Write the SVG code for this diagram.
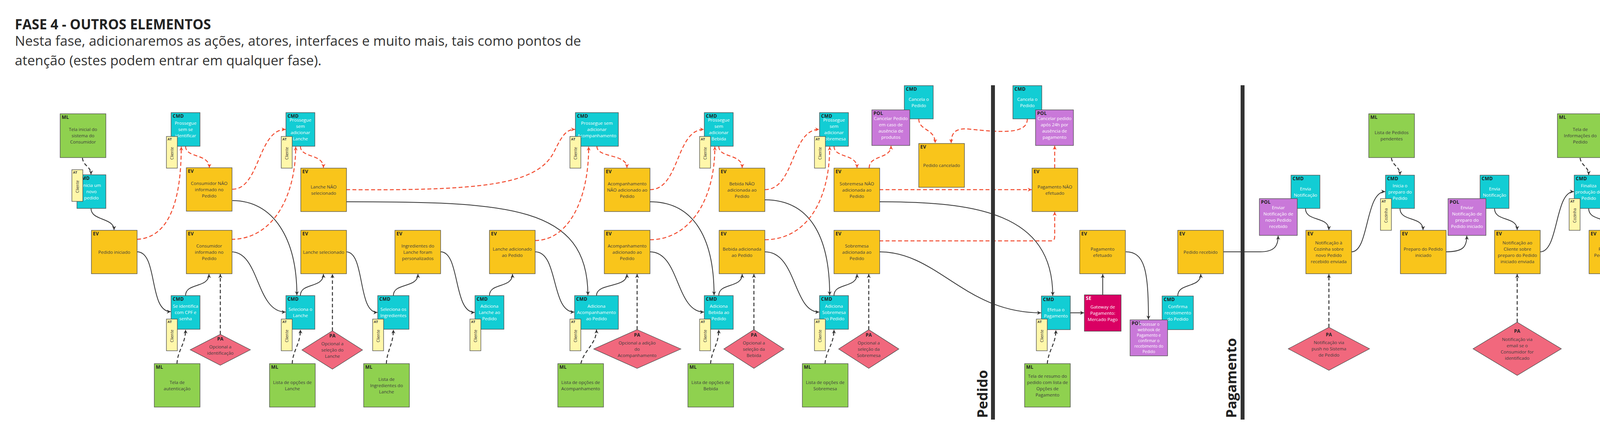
<svg xmlns="http://www.w3.org/2000/svg" width="5348" height="1115" viewBox="0 0 5348 1115">
<style>
.b{stroke:#4a4a4a;stroke-width:1.3}
.ev{fill:#F9C51B}
.cmd{fill:#12CDD4}
.ml{fill:#8FD14F}
.at{fill:#FFF7AA}
.pol{fill:#C978D9}
.pa{fill:#F1687D}
.se{fill:#DA0063}
text{font-family:"Open Sans","Liberation Sans",sans-serif}
.l{font-weight:700;font-size:12px;fill:#1e1e1e;letter-spacing:0.3px}
.lw{fill:#fff}
.t{font-size:11.5px;fill:#3b3b3b;text-anchor:middle}
.w{fill:#fff}
.sm{font-size:10px}
.al{font-weight:700;font-size:8.5px;fill:#333}
.an{font-size:10px;fill:#333;text-anchor:middle}
.s{fill:none;stroke:#333;stroke-width:2;marker-end:url(#ak)}
.d{fill:none;stroke:#333;stroke-width:2.5;stroke-dasharray:9 6;marker-end:url(#ak)}
.r{fill:none;stroke:#F24A2E;stroke-width:2.5;stroke-dasharray:10 6;marker-end:url(#ar)}
.sep{fill:#333}
.st{font-weight:700;font-size:36px;fill:#222}
.pl{font-weight:700;font-size:12px;fill:#222;text-anchor:middle}
</style>
<defs>
<marker id="ak" viewBox="0 0 12 12" refX="11" refY="6" markerWidth="12" markerHeight="12" markerUnits="userSpaceOnUse" orient="auto"><path d="M1,1 L11,6 L1,11 L4,6 z" fill="#333"/></marker>
<marker id="ar" viewBox="0 0 12 12" refX="11" refY="6" markerWidth="12" markerHeight="12" markerUnits="userSpaceOnUse" orient="auto"><path d="M1,1 L11,6 L1,11 L4,6 z" fill="#F24A2E"/></marker>
</defs>
<rect width="5348" height="1115" fill="#fff"/>
<g id="header">
<text x="38" y="75" font-weight="700" font-size="35" fill="#222">FASE 4 - OUTROS ELEMENTOS</text>
<text x="38" y="117" font-size="35" fill="#333">Nesta fase, adicionaremos as ações, atores, interfaces e muito mais, tais como pontos de</text>
<text x="38" y="167" font-size="35" fill="#333">atenção (estes podem entrar em qualquer fase).</text>
</g>
<g id="connectors">
<path class="s" d="M233,533 C233,565 292,556 292,588"/>
<path class="s" d="M351,644 C405,644 380,797 437,797"/>
<path class="s" d="M475,756 C475,722 535,738 535,701"/>
<path class="s" d="M595,513 C700,513 760,610 760,755"/>
<path class="s" d="M592,644 C665,644 655,798 731,798"/>
<path class="s" d="M769,756 C769,722 828,738 828,701"/>
<path class="s" d="M886,644 C935,644 915,799 966,799"/>
<path class="s" d="M1007,756 C1007,722 1070,738 1070,701"/>
<path class="s" d="M1128,644 C1178,644 1160,799 1215,799"/>
<path class="s" d="M1253,756 C1253,722 1312,738 1312,701"/>
<path class="s" d="M886,516 C1300,516 1505,525 1505,755"/>
<path class="s" d="M1370,644 C1430,644 1410,798 1470,798"/>
<path class="s" d="M1527,756 C1527,722 1605,738 1605,701"/>
<path class="s" d="M1664,516 C1770,516 1828,600 1828,755"/>
<path class="s" d="M1664,644 C1740,644 1730,798 1802,798"/>
<path class="s" d="M1840,756 C1840,722 1900,738 1900,701"/>
<path class="s" d="M1958,511 C2070,511 2124,600 2124,755"/>
<path class="s" d="M1958,644 C2040,644 2030,798 2097,798"/>
<path class="s" d="M2135,756 C2135,722 2194,738 2194,701"/>
<path class="s" d="M2251,516 C2500,516 2695,545 2695,756"/>
<path class="s" d="M2251,644 C2400,644 2470,800 2665,800"/>
<path class="s" d="M2740,800 L2775,800"/>
<path class="s" d="M2823,754 L2823,701"/>
<path class="s" d="M2882,644 C2930,644 2940,690 2940,817"/>
<path class="s" d="M3015,757 C3015,722 3074,738 3074,701"/>
<path class="s" d="M3131,644 L3225,644 C3262,644 3272,630 3272,603"/>
<path class="s" d="M3342,533 C3342,568 3402,552 3402,588"/>
<path class="s" d="M3460,644 C3505,644 3495,490 3546,490"/>
<path class="s" d="M3584,533 C3584,568 3643,552 3643,588"/>
<path class="s" d="M3701,644 C3745,644 3755,632 3755,603"/>
<path class="s" d="M3826,533 C3826,568 3884,552 3884,588"/>
<path class="s" d="M3943,644 C3990,644 3980,490 4029,490"/>
<path class="s" d="M4067,533 C4067,568 4126,552 4126,588"/>
<path class="s" d="M4184,644 C4228,644 4239,632 4239,603"/>
<path class="s" d="M4308,533 C4308,568 4367,552 4367,588"/>
<path class="s" d="M4425,644 C4470,644 4460,490 4512,490"/>
<path class="s" d="M4550,533 C4550,568 4609,552 4609,588"/>
<path class="s" d="M4667,644 C4710,644 4700,490 4754,490"/>
<path class="s" d="M4792,533 C4792,568 4850,552 4850,588"/>
<path class="s" d="M4908,644 C4952,644 4963,632 4963,603"/>
<path class="s" d="M5034,533 C5034,568 5092,552 5092,588"/>
<path class="d" d="M211,404 C213,425 233,425 233,446"/>
<path class="d" d="M453,930 C455,895 475,880 475,843"/>
<path class="d" d="M564,855 L564,701"/>
<path class="d" d="M748,930 C750,895 769,880 769,843"/>
<path class="d" d="M851,846 L851,701"/>
<path class="d" d="M989,930 C991,895 1007,880 1007,843"/>
<path class="d" d="M1487,930 C1495,895 1527,880 1527,843"/>
<path class="d" d="M1631,843 L1631,701"/>
<path class="d" d="M1819,930 C1822,895 1840,880 1840,843"/>
<path class="d" d="M1930,843 L1930,701"/>
<path class="d" d="M2112,930 C2115,895 2135,880 2135,843"/>
<path class="d" d="M2224,843 L2224,701"/>
<path class="d" d="M2681,930 C2684,895 2703,880 2703,844"/>
<path class="d" d="M3402,837 L3402,701"/>
<path class="d" d="M3562,404 C3565,425 3584,425 3584,447"/>
<path class="d" d="M3884,824 L3884,701"/>
<path class="d" d="M4045,404 C4048,425 4067,425 4067,447"/>
<path class="d" d="M4367,824 L4367,701"/>
<path class="d" d="M4770,404 C4773,425 4792,425 4792,447"/>
<path class="d" d="M5092,824 L5092,701"/>
<path class="r" d="M351,612 C430,608 464,520 464,375"/>
<path class="r" d="M475,374 C475,405 536,392 536,429"/>
<path class="r" d="M595,484 C665,484 660,331 731,331"/>
<path class="r" d="M592,612 C700,612 757,500 757,375"/>
<path class="r" d="M769,374 C769,405 828,392 828,429"/>
<path class="r" d="M886,485 C1250,488 1380,470 1420,385 C1440,345 1450,331 1472,331"/>
<path class="r" d="M1370,615 C1450,615 1507,520 1507,375"/>
<path class="r" d="M1528,374 C1528,405 1605,392 1605,429"/>
<path class="r" d="M1664,485 C1740,485 1730,331 1802,331"/>
<path class="r" d="M1664,613 C1760,613 1830,520 1830,375"/>
<path class="r" d="M1840,374 C1840,405 1900,392 1900,429"/>
<path class="r" d="M1958,485 C2035,485 2025,331 2097,331"/>
<path class="r" d="M1958,613 C2060,613 2124,520 2124,375"/>
<path class="r" d="M2135,374 C2135,405 2194,392 2194,429"/>
<path class="r" d="M2225,430 C2225,395 2281,408 2281,373"/>
<path class="r" d="M2352,304 C2352,335 2394,328 2394,366"/>
<path class="r" d="M2630,304 C2630,345 2560,338 2480,330 C2445,327 2435,340 2435,366"/>
<path class="r" d="M2251,485 L2641,485"/>
<path class="r" d="M2251,616 L2690,616 Q2700,616 2700,606 L2700,542"/>
<path class="r" d="M2700,430 L2700,373"/>
<path class="r" d="M4425,675 C4490,675 4490,777 4549,777"/>
<path class="r" d="M4667,768 C4710,768 4722,785 4722,815"/>
<path class="r" d="M4792,756 C4792,722 4850,738 4850,701"/>
</g>
<g id="separators">
<rect class="sep" x="2537" y="218" width="10" height="855"/>
<text class="st" transform="translate(2528,1069) rotate(-90)">Pedido</text>
<rect class="sep" x="3176" y="218" width="10" height="855"/>
<text class="st" transform="translate(3165,1069) rotate(-90)">Pagamento</text>
<rect class="sep" x="5220" y="218" width="10" height="855"/>
<text class="st" transform="translate(5208,1069) rotate(-90)">Produção</text>
</g>
<g id="ml-tela-inicial"><rect class="ml b" x="154" y="291" width="117" height="112"/><text class="l" x="158" y="304">ML</text><text class="t" y="335"><tspan x="212.5">Tela inicial do</tspan><tspan x="212.5" dy="16">sistema do</tspan><tspan x="212.5" dy="16">Consumidor</tspan></text></g>
<g id="cmd-inicia-pedido"><rect class="cmd b" x="197" y="447" width="74" height="86"/><text class="l" x="201" y="460">CMD</text><text class="t w" y="478"><tspan x="234">Inicia um</tspan><tspan x="234" dy="16">novo</tspan><tspan x="234" dy="16">pedido</tspan></text><rect class="at b" x="184" y="434" width="28" height="81"/><text class="al" x="187" y="444">AT</text><text class="an" transform="translate(202,477) rotate(-90)">Cliente</text></g>
<g id="ev-pedido-iniciado"><rect class="ev b" x="234" y="589" width="117" height="111"/><text class="l" x="238" y="602">EV</text><text class="t" x="292.5" y="648.5">Pedido iniciado</text></g>
<g id="cmd-prossegue-sem-identificar"><rect class="cmd b" x="438" y="288" width="74" height="86"/><text class="l" x="442" y="301">CMD</text><text class="t w" y="319"><tspan x="475">Prossegue</tspan><tspan x="475" dy="16">sem se</tspan><tspan x="475" dy="16">identificar</tspan></text><rect class="at b" x="426" y="349" width="28" height="81"/><text class="al" x="429" y="359">AT</text><text class="an" transform="translate(444,392) rotate(-90)">Cliente</text></g>
<g id="ev-consumidor-nao-informado"><rect class="ev b" x="477" y="429" width="117" height="111"/><text class="l" x="481" y="442">EV</text><text class="t" y="472.5"><tspan x="535.5">Consumidor NÃO</tspan><tspan x="535.5" dy="16">informado no</tspan><tspan x="535.5" dy="16">Pedido</tspan></text></g>
<g id="ev-consumidor-informado"><rect class="ev b" x="477" y="589" width="117" height="111"/><text class="l" x="481" y="602">EV</text><text class="t" y="632.5"><tspan x="535.5">Consumidor</tspan><tspan x="535.5" dy="16">informado no</tspan><tspan x="535.5" dy="16">Pedido</tspan></text></g>
<g id="cmd-se-identifica"><rect class="cmd b" x="438" y="756" width="74" height="86"/><text class="l" x="442" y="769">CMD</text><text class="t w" y="787"><tspan x="475">Se identifica</tspan><tspan x="475" dy="16">com CPF e</tspan><tspan x="475" dy="16">senha</tspan></text><rect class="at b" x="426" y="816" width="28" height="81"/><text class="al" x="429" y="826">AT</text><text class="an" transform="translate(444,859) rotate(-90)">Cliente</text></g>
<g id="pa-identificacao"><polygon class="pa b" points="564,855 641,894.5 564,934 487,894.5"/><text class="pl" x="564" y="871">PA</text><text class="t" y="890.5"><tspan x="564">Opcional a</tspan><tspan x="564" dy="16">identificação</tspan></text></g>
<g id="ml-autenticacao"><rect class="ml b" x="395" y="930" width="117" height="111"/><text class="l" x="399" y="943">ML</text><text class="t" y="981.5"><tspan x="453.5">Tela de</tspan><tspan x="453.5" dy="16">autenticação</tspan></text></g>
<g id="cmd-prossegue-sem-lanche"><rect class="cmd b" x="732" y="288" width="74" height="86"/><text class="l" x="736" y="301">CMD</text><text class="t w" y="311"><tspan x="769">Prossegue</tspan><tspan x="769" dy="16">sem</tspan><tspan x="769" dy="16">adicionar</tspan><tspan x="769" dy="16">Lanche</tspan></text><rect class="at b" x="720" y="349" width="28" height="81"/><text class="al" x="723" y="359">AT</text><text class="an" transform="translate(738,392) rotate(-90)">Cliente</text></g>
<g id="ev-lanche-nao-selecionado"><rect class="ev b" x="770" y="430" width="117" height="111"/><text class="l" x="774" y="443">EV</text><text class="t" y="481.5"><tspan x="828.5">Lanche NÃO</tspan><tspan x="828.5" dy="16">selecionado</tspan></text></g>
<g id="ev-lanche-selecionado"><rect class="ev b" x="770" y="589" width="117" height="111"/><text class="l" x="774" y="602">EV</text><text class="t" x="828.5" y="648.5">Lanche selecionado</text></g>
<g id="cmd-seleciona-lanche"><rect class="cmd b" x="732" y="756" width="74" height="86"/><text class="l" x="736" y="769">CMD</text><text class="t w" y="795"><tspan x="769">Seleciona o</tspan><tspan x="769" dy="16">Lanche</tspan></text><rect class="at b" x="720" y="816" width="28" height="81"/><text class="al" x="723" y="826">AT</text><text class="an" transform="translate(738,859) rotate(-90)">Cliente</text></g>
<g id="pa-lanche"><polygon class="pa b" points="851,846 928,895 851,944 773,895"/><text class="pl" x="851" y="863">PA</text><text class="t" y="883"><tspan x="851">Opcional a</tspan><tspan x="851" dy="16">seleção do</tspan><tspan x="851" dy="16">Lanche</tspan></text></g>
<g id="ml-opcoes-lanche"><rect class="ml b" x="690" y="930" width="117" height="111"/><text class="l" x="694" y="943">ML</text><text class="t" y="981.5"><tspan x="748.5">Lista de opções de</tspan><tspan x="748.5" dy="16">Lanche</tspan></text></g>
<g id="ev-ingredientes"><rect class="ev b" x="1011" y="589" width="117" height="111"/><text class="l" x="1015" y="602">EV</text><text class="t" y="632.5"><tspan x="1069.5">Ingredientes do</tspan><tspan x="1069.5" dy="16">Lanche foram</tspan><tspan x="1069.5" dy="16">personalizados</tspan></text></g>
<g id="cmd-seleciona-ingredientes"><rect class="cmd b" x="967" y="756" width="80" height="86"/><text class="l" x="971" y="769">CMD</text><text class="t w" y="795"><tspan x="1007">Seleciona os</tspan><tspan x="1007" dy="16">Ingredientes</tspan></text><rect class="at b" x="954" y="816" width="28" height="81"/><text class="al" x="957" y="826">AT</text><text class="an" transform="translate(972,859) rotate(-90)">Cliente</text></g>
<g id="ml-ingredientes"><rect class="ml b" x="931" y="930" width="117" height="111"/><text class="l" x="935" y="943">ML</text><text class="t" y="973.5"><tspan x="989.5">Lista de</tspan><tspan x="989.5" dy="16">Ingredientes do</tspan><tspan x="989.5" dy="16">Lanche</tspan></text></g>
<g id="ev-lanche-adicionado"><rect class="ev b" x="1253" y="589" width="117" height="111"/><text class="l" x="1257" y="602">EV</text><text class="t" y="640.5"><tspan x="1311.5">Lanche adicionado</tspan><tspan x="1311.5" dy="16">ao Pedido</tspan></text></g>
<g id="cmd-adiciona-lanche"><rect class="cmd b" x="1216" y="756" width="74" height="86"/><text class="l" x="1220" y="769">CMD</text><text class="t w" y="787"><tspan x="1253">Adiciona</tspan><tspan x="1253" dy="16">Lanche ao</tspan><tspan x="1253" dy="16">Pedido</tspan></text><rect class="at b" x="1203" y="816" width="28" height="81"/><text class="al" x="1206" y="826">AT</text><text class="an" transform="translate(1221,859) rotate(-90)">Cliente</text></g>
<g id="cmd-prossegue-sem-acomp"><rect class="cmd b" x="1473" y="288" width="110" height="86"/><text class="l" x="1477" y="301">CMD</text><text class="t w" y="319"><tspan x="1528">Prossegue sem</tspan><tspan x="1528" dy="16">adicionar</tspan><tspan x="1528" dy="16">Acompanhamento</tspan></text><rect class="at b" x="1459" y="349" width="28" height="81"/><text class="al" x="1462" y="359">AT</text><text class="an" transform="translate(1477,392) rotate(-90)">Cliente</text></g>
<g id="ev-acomp-nao"><rect class="ev b" x="1547" y="430" width="117" height="111"/><text class="l" x="1551" y="443">EV</text><text class="t" y="473.5"><tspan x="1605.5">Acompanhamento</tspan><tspan x="1605.5" dy="16">NÃO adicionado ao</tspan><tspan x="1605.5" dy="16">Pedido</tspan></text></g>
<g id="ev-acomp-adicionado"><rect class="ev b" x="1547" y="589" width="117" height="111"/><text class="l" x="1551" y="602">EV</text><text class="t" y="632.5"><tspan x="1605.5">Acompanhamento</tspan><tspan x="1605.5" dy="16">adicionado ao</tspan><tspan x="1605.5" dy="16">Pedido</tspan></text></g>
<g id="cmd-adiciona-acomp"><rect class="cmd b" x="1471" y="756" width="112" height="86"/><text class="l" x="1475" y="769">CMD</text><text class="t w" y="787"><tspan x="1527">Adiciona</tspan><tspan x="1527" dy="16">Acompanhamento</tspan><tspan x="1527" dy="16">ao Pedido</tspan></text><rect class="at b" x="1459" y="816" width="28" height="81"/><text class="al" x="1462" y="826">AT</text><text class="an" transform="translate(1477,859) rotate(-90)">Cliente</text></g>
<g id="pa-acomp"><polygon class="pa b" points="1631,843 1743,892.5 1631,942 1520,892.5"/><text class="pl" x="1631" y="860.5">PA</text><text class="t" y="880.5"><tspan x="1631">Opcional a adição</tspan><tspan x="1631" dy="16">do</tspan><tspan x="1631" dy="16">Acompanhamento</tspan></text></g>
<g id="ml-acomp"><rect class="ml b" x="1428" y="930" width="117" height="111"/><text class="l" x="1432" y="943">ML</text><text class="t" y="981.5"><tspan x="1486.5">Lista de opções de</tspan><tspan x="1486.5" dy="16">Acompanhamento</tspan></text></g>
<g id="cmd-prossegue-sem-bebida"><rect class="cmd b" x="1803" y="288" width="74" height="86"/><text class="l" x="1807" y="301">CMD</text><text class="t w" y="311"><tspan x="1840">Prossegue</tspan><tspan x="1840" dy="16">sem</tspan><tspan x="1840" dy="16">adicionar</tspan><tspan x="1840" dy="16">Bebida</tspan></text><rect class="at b" x="1791" y="349" width="28" height="81"/><text class="al" x="1794" y="359">AT</text><text class="an" transform="translate(1809,392) rotate(-90)">Cliente</text></g>
<g id="ev-bebida-nao"><rect class="ev b" x="1841" y="430" width="117" height="111"/><text class="l" x="1845" y="443">EV</text><text class="t" y="473.5"><tspan x="1899.5">Bebida NÃO</tspan><tspan x="1899.5" dy="16">adicionada ao</tspan><tspan x="1899.5" dy="16">Pedido</tspan></text></g>
<g id="ev-bebida-adicionada"><rect class="ev b" x="1841" y="589" width="117" height="111"/><text class="l" x="1845" y="602">EV</text><text class="t" y="640.5"><tspan x="1899.5">Bebida adicionada</tspan><tspan x="1899.5" dy="16">ao Pedido</tspan></text></g>
<g id="cmd-adiciona-bebida"><rect class="cmd b" x="1803" y="756" width="74" height="86"/><text class="l" x="1807" y="769">CMD</text><text class="t w" y="787"><tspan x="1840">Adiciona</tspan><tspan x="1840" dy="16">Bebida ao</tspan><tspan x="1840" dy="16">Pedido</tspan></text><rect class="at b" x="1791" y="816" width="28" height="81"/><text class="al" x="1794" y="826">AT</text><text class="an" transform="translate(1809,859) rotate(-90)">Cliente</text></g>
<g id="pa-bebida"><polygon class="pa b" points="1930,843 2007,892.5 1930,942 1853,892.5"/><text class="pl" x="1930" y="860.5">PA</text><text class="t" y="880.5"><tspan x="1930">Opcional a</tspan><tspan x="1930" dy="16">seleção da</tspan><tspan x="1930" dy="16">Bebida</tspan></text></g>
<g id="ml-bebida"><rect class="ml b" x="1761" y="930" width="117" height="111"/><text class="l" x="1765" y="943">ML</text><text class="t" y="981.5"><tspan x="1819.5">Lista de opções de</tspan><tspan x="1819.5" dy="16">Bebida</tspan></text></g>
<g id="cmd-prossegue-sem-sobremesa"><rect class="cmd b" x="2098" y="288" width="74" height="86"/><text class="l" x="2102" y="301">CMD</text><text class="t w" y="311"><tspan x="2135">Prossegue</tspan><tspan x="2135" dy="16">sem</tspan><tspan x="2135" dy="16">adicionar</tspan><tspan x="2135" dy="16">Sobremesa</tspan></text><rect class="at b" x="2085" y="349" width="28" height="81"/><text class="al" x="2088" y="359">AT</text><text class="an" transform="translate(2103,392) rotate(-90)">Cliente</text></g>
<g id="ev-sobremesa-nao"><rect class="ev b" x="2135" y="430" width="117" height="111"/><text class="l" x="2139" y="443">EV</text><text class="t" y="473.5"><tspan x="2193.5">Sobremesa NÃO</tspan><tspan x="2193.5" dy="16">adicionada ao</tspan><tspan x="2193.5" dy="16">Pedido</tspan></text></g>
<g id="ev-sobremesa-adicionada"><rect class="ev b" x="2135" y="589" width="117" height="111"/><text class="l" x="2139" y="602">EV</text><text class="t" y="632.5"><tspan x="2193.5">Sobremesa</tspan><tspan x="2193.5" dy="16">adicionada ao</tspan><tspan x="2193.5" dy="16">Pedido</tspan></text></g>
<g id="cmd-adiciona-sobremesa"><rect class="cmd b" x="2098" y="756" width="74" height="86"/><text class="l" x="2102" y="769">CMD</text><text class="t w" y="787"><tspan x="2135">Adiciona</tspan><tspan x="2135" dy="16">Sobremesa</tspan><tspan x="2135" dy="16">ao Pedido</tspan></text><rect class="at b" x="2085" y="816" width="28" height="81"/><text class="al" x="2088" y="826">AT</text><text class="an" transform="translate(2103,859) rotate(-90)">Cliente</text></g>
<g id="pa-sobremesa"><polygon class="pa b" points="2224,843 2301,892.5 2224,942 2147,892.5"/><text class="pl" x="2224" y="860.5">PA</text><text class="t" y="880.5"><tspan x="2224">Opcional a</tspan><tspan x="2224" dy="16">seleção da</tspan><tspan x="2224" dy="16">Sobremesa</tspan></text></g>
<g id="ml-sobremesa"><rect class="ml b" x="2054" y="930" width="117" height="111"/><text class="l" x="2058" y="943">ML</text><text class="t" y="981.5"><tspan x="2112.5">Lista de opções de</tspan><tspan x="2112.5" dy="16">Sobremesa</tspan></text></g>
<g id="cmd-cancela-1"><rect class="cmd b" x="2315" y="219" width="74" height="85"/><text class="l" x="2319" y="232">CMD</text><text class="t w" y="257.5"><tspan x="2352">Cancela o</tspan><tspan x="2352" dy="16">Pedido</tspan></text></g>
<g id="pol-cancelar-ausencia-produtos"><rect class="pol b" x="2232" y="281" width="97" height="91"/><text class="l" x="2236" y="294">POL</text><text class="t w" y="306.5"><tspan x="2280.5">Cancelar Pedido</tspan><tspan x="2280.5" dy="16">em caso de</tspan><tspan x="2280.5" dy="16">ausência de</tspan><tspan x="2280.5" dy="16">produtos</tspan></text></g>
<g id="ev-pedido-cancelado"><rect class="ev b" x="2352" y="367" width="117" height="112"/><text class="l" x="2356" y="380">EV</text><text class="t" x="2410.5" y="427">Pedido cancelado</text></g>
<g id="cmd-cancela-2"><rect class="cmd b" x="2593" y="219" width="74" height="85"/><text class="l" x="2597" y="232">CMD</text><text class="t w" y="257.5"><tspan x="2630">Cancela o</tspan><tspan x="2630" dy="16">Pedido</tspan></text></g>
<g id="pol-cancelar-24h"><rect class="pol b" x="2651" y="281" width="97" height="91"/><text class="l" x="2655" y="294">POL</text><text class="t w" y="306.5"><tspan x="2699.5">Cancelar pedido</tspan><tspan x="2699.5" dy="16">após 24h por</tspan><tspan x="2699.5" dy="16">ausência de</tspan><tspan x="2699.5" dy="16">pagamento</tspan></text></g>
<g id="ev-pagamento-nao"><rect class="ev b" x="2642" y="430" width="117" height="111"/><text class="l" x="2646" y="443">EV</text><text class="t" y="481.5"><tspan x="2700.5">Pagamento NÃO</tspan><tspan x="2700.5" dy="16">efetuado</tspan></text></g>
<g id="ev-pagamento-efetuado"><rect class="ev b" x="2764" y="589" width="117" height="111"/><text class="l" x="2768" y="602">EV</text><text class="t" y="640.5"><tspan x="2822.5">Pagamento</tspan><tspan x="2822.5" dy="16">efetuado</tspan></text></g>
<g id="cmd-efetua-pagamento"><rect class="cmd b" x="2666" y="757" width="74" height="86"/><text class="l" x="2670" y="770">CMD</text><text class="t w" y="796"><tspan x="2703">Efetua o</tspan><tspan x="2703" dy="16">Pagamento</tspan></text><rect class="at b" x="2653" y="816" width="28" height="81"/><text class="al" x="2656" y="826">AT</text><text class="an" transform="translate(2671,859) rotate(-90)">Cliente</text></g>
<g id="se-gateway"><rect class="se b" x="2776" y="754" width="94" height="93"/><text class="l lw" x="2780" y="767">SE</text><text class="t w" y="788.5"><tspan x="2823">Gateway de</tspan><tspan x="2823" dy="16">Pagamento:</tspan><tspan x="2823" dy="16">Mercado Pago</tspan></text></g>
<g id="ml-resumo-pedido"><rect class="ml b" x="2623" y="930" width="117" height="111"/><text class="l" x="2627" y="943">ML</text><text class="t" y="965.5"><tspan x="2681.5">Tela de resumo do</tspan><tspan x="2681.5" dy="16">pedido com lista de</tspan><tspan x="2681.5" dy="16">Opções de</tspan><tspan x="2681.5" dy="16">Pagamento</tspan></text></g>
<g id="cmd-confirma-recebimento"><rect class="cmd b" x="2975" y="757" width="80" height="86"/><text class="l" x="2979" y="770">CMD</text><text class="t w" y="788"><tspan x="3015">Confirma</tspan><tspan x="3015" dy="16">recebimento</tspan><tspan x="3015" dy="16">do Pedido</tspan></text></g>
<g id="pol-webhook"><rect class="pol b" x="2893" y="818" width="96" height="92"/><text class="l" x="2897" y="831">POL</text><text class="t w sm" y="832.5"><tspan x="2941">Processar o</tspan><tspan x="2941" dy="14">webhook de</tspan><tspan x="2941" dy="14">Pagamento e</tspan><tspan x="2941" dy="14">confirmar o</tspan><tspan x="2941" dy="14">recebimento do</tspan><tspan x="2941" dy="14">Pedido</tspan></text></g>
<g id="ev-pedido-recebido"><rect class="ev b" x="3015" y="589" width="117" height="111"/><text class="l" x="3019" y="602">EV</text><text class="t" x="3073.5" y="648.5">Pedido recebido</text></g>
<g id="cmd-envia-notificacao-1"><rect class="cmd b" x="3305" y="448" width="74" height="85"/><text class="l" x="3309" y="461">CMD</text><text class="t w" y="486.5"><tspan x="3342">Envia</tspan><tspan x="3342" dy="16">Notificação</tspan></text></g>
<g id="pol-notif-novo-pedido"><rect class="pol b" x="3224" y="508" width="97" height="94"/><text class="l" x="3228" y="521">POL</text><text class="t w" y="535"><tspan x="3272.5">Enviar</tspan><tspan x="3272.5" dy="16">Notificação de</tspan><tspan x="3272.5" dy="16">novo Pedido</tspan><tspan x="3272.5" dy="16">recebido</tspan></text></g>
<g id="ev-notif-cozinha"><rect class="ev b" x="3343" y="589" width="117" height="111"/><text class="l" x="3347" y="602">EV</text><text class="t" y="624.5"><tspan x="3401.5">Notificação à</tspan><tspan x="3401.5" dy="16">Cozinha sobre</tspan><tspan x="3401.5" dy="16">novo Pedido</tspan><tspan x="3401.5" dy="16">recebido enviada</tspan></text></g>
<g id="pa-push"><polygon class="pa b" points="3402,837 3506,892 3402,947 3298,892"/><text class="pl" x="3402" y="860">PA</text><text class="t" y="880"><tspan x="3402">Notificação via</tspan><tspan x="3402" dy="16">push no Sistema</tspan><tspan x="3402" dy="16">de Pedido</tspan></text></g>
<g id="ml-pedidos-pendentes"><rect class="ml b" x="3504" y="291" width="117" height="112"/><text class="l" x="3508" y="304">ML</text><text class="t" y="343"><tspan x="3562.5">Lista de Pedidos</tspan><tspan x="3562.5" dy="16">pendentes</tspan></text></g>
<g id="cmd-inicia-preparo"><rect class="cmd b" x="3547" y="448" width="74" height="85"/><text class="l" x="3551" y="461">CMD</text><text class="t w" y="478.5"><tspan x="3584">Inicia o</tspan><tspan x="3584" dy="16">preparo do</tspan><tspan x="3584" dy="16">Pedido</tspan></text><rect class="at b" x="3534" y="508" width="28" height="81"/><text class="al" x="3537" y="518">AT</text><text class="an" transform="translate(3552,551) rotate(-90)">Cozinha</text></g>
<g id="ev-preparo-iniciado"><rect class="ev b" x="3585" y="589" width="117" height="111"/><text class="l" x="3589" y="602">EV</text><text class="t" y="640.5"><tspan x="3643.5">Preparo do Pedido</tspan><tspan x="3643.5" dy="16">iniciado</tspan></text></g>
<g id="cmd-envia-notificacao-2"><rect class="cmd b" x="3789" y="448" width="74" height="85"/><text class="l" x="3793" y="461">CMD</text><text class="t w" y="486.5"><tspan x="3826">Envia</tspan><tspan x="3826" dy="16">Notificação</tspan></text></g>
<g id="pol-notif-preparo-iniciado"><rect class="pol b" x="3707" y="508" width="97" height="94"/><text class="l" x="3711" y="521">POL</text><text class="t w" y="535"><tspan x="3755.5">Enviar</tspan><tspan x="3755.5" dy="16">Notificação de</tspan><tspan x="3755.5" dy="16">preparo do</tspan><tspan x="3755.5" dy="16">Pedido iniciado</tspan></text></g>
<g id="ev-notif-preparo-iniciado"><rect class="ev b" x="3826" y="589" width="117" height="111"/><text class="l" x="3830" y="602">EV</text><text class="t" y="624.5"><tspan x="3884.5">Notificação ao</tspan><tspan x="3884.5" dy="16">Cliente sobre</tspan><tspan x="3884.5" dy="16">preparo do Pedido</tspan><tspan x="3884.5" dy="16">iniciado enviada</tspan></text></g>
<g id="pa-email-1"><polygon class="pa b" points="3884,824 3997,892 3884,960 3771,892"/><text class="pl" x="3884" y="851">PA</text><text class="t" y="872"><tspan x="3884">Notificação via</tspan><tspan x="3884" dy="16">email se o</tspan><tspan x="3884" dy="16">Consumidor for</tspan><tspan x="3884" dy="16">identificado</tspan></text></g>
<g id="ml-info-pedido-1"><rect class="ml b" x="3987" y="291" width="117" height="112"/><text class="l" x="3991" y="304">ML</text><text class="t" y="335"><tspan x="4045.5">Tela de</tspan><tspan x="4045.5" dy="16">Informações do</tspan><tspan x="4045.5" dy="16">Pedido</tspan></text></g>
<g id="cmd-finaliza-producao"><rect class="cmd b" x="4030" y="448" width="74" height="85"/><text class="l" x="4034" y="461">CMD</text><text class="t w" y="478.5"><tspan x="4067">Finaliza</tspan><tspan x="4067" dy="16">produção do</tspan><tspan x="4067" dy="16">Pedido</tspan></text><rect class="at b" x="4017" y="508" width="28" height="81"/><text class="al" x="4020" y="518">AT</text><text class="an" transform="translate(4035,551) rotate(-90)">Cozinha</text></g>
<g id="ev-producao-finalizada"><rect class="ev b" x="4068" y="589" width="117" height="111"/><text class="l" x="4072" y="602">EV</text><text class="t" y="640.5"><tspan x="4126.5">Produção do</tspan><tspan x="4126.5" dy="16">Pedido finalizada</tspan></text></g>
<g id="cmd-envia-notificacao-3"><rect class="cmd b" x="4271" y="448" width="74" height="85"/><text class="l" x="4275" y="461">CMD</text><text class="t w" y="486.5"><tspan x="4308">Envia</tspan><tspan x="4308" dy="16">Notificação</tspan></text></g>
<g id="pol-notif-preparo-concluido"><rect class="pol b" x="4190" y="508" width="97" height="94"/><text class="l" x="4194" y="521">POL</text><text class="t w" y="527"><tspan x="4238.5">Enviar</tspan><tspan x="4238.5" dy="16">Notificação de</tspan><tspan x="4238.5" dy="16">preparo do</tspan><tspan x="4238.5" dy="16">Pedido</tspan><tspan x="4238.5" dy="16">concluído</tspan></text></g>
<g id="ev-notif-concluido"><rect class="ev b" x="4309" y="589" width="117" height="111"/><text class="l" x="4313" y="602">EV</text><text class="t" y="624.5"><tspan x="4367.5">Notificação ao</tspan><tspan x="4367.5" dy="16">Cliente sobre</tspan><tspan x="4367.5" dy="16">Pedido concluído</tspan><tspan x="4367.5" dy="16">enviada</tspan></text></g>
<g id="pa-email-2"><polygon class="pa b" points="4367,824 4480,892 4367,960 4254,892"/><text class="pl" x="4367" y="851">PA</text><text class="t" y="872"><tspan x="4367">Notificação via</tspan><tspan x="4367" dy="16">email se o</tspan><tspan x="4367" dy="16">Consumidor for</tspan><tspan x="4367" dy="16">identificado</tspan></text></g>
<g id="cmd-retira-pedido"><rect class="cmd b" x="4513" y="448" width="74" height="85"/><text class="l" x="4517" y="461">CMD</text><text class="t w" y="486.5"><tspan x="4550">Retira o</tspan><tspan x="4550" dy="16">Pedido</tspan></text><rect class="at b" x="4500" y="508" width="28" height="81"/><text class="al" x="4503" y="518">AT</text><text class="an" transform="translate(4518,551) rotate(-90)">Cliente</text></g>
<g id="ev-pedido-retirado"><rect class="ev b" x="4550" y="589" width="117" height="111"/><text class="l" x="4554" y="602">EV</text><text class="t" x="4608.5" y="648.5">Pedido retirado</text></g>
<g id="ev-pedido-nao-retirado"><rect class="ev b" x="4550" y="747" width="117" height="112"/><text class="l" x="4554" y="760">EV</text><text class="t" y="799"><tspan x="4608.5">Pedido NÃO</tspan><tspan x="4608.5" dy="16">retirado</tspan></text></g>
<g id="ml-info-pedido-2"><rect class="ml b" x="4712" y="291" width="117" height="112"/><text class="l" x="4716" y="304">ML</text><text class="t" y="335"><tspan x="4770.5">Tela de</tspan><tspan x="4770.5" dy="16">Informações do</tspan><tspan x="4770.5" dy="16">Pedido</tspan></text></g>
<g id="cmd-finaliza-pedido"><rect class="cmd b" x="4755" y="448" width="74" height="85"/><text class="l" x="4759" y="461">CMD</text><text class="t w" y="486.5"><tspan x="4792">Finaliza o</tspan><tspan x="4792" dy="16">Pedido</tspan></text><rect class="at b" x="4742" y="508" width="28" height="81"/><text class="al" x="4745" y="518">AT</text><text class="an" transform="translate(4760,548) rotate(-90)">Lanchonete</text></g>
<g id="ev-pedido-finalizado"><rect class="ev b" x="4792" y="589" width="117" height="111"/><text class="l" x="4796" y="602">EV</text><text class="t" x="4850.5" y="648.5">Pedido Finalizado</text></g>
<g id="cmd-envia-notificacao-4"><rect class="cmd b" x="4997" y="448" width="74" height="85"/><text class="l" x="5001" y="461">CMD</text><text class="t w" y="486.5"><tspan x="5034">Envia</tspan><tspan x="5034" dy="16">Notificação</tspan></text></g>
<g id="pol-notif-finalizado"><rect class="pol b" x="4915" y="508" width="97" height="94"/><text class="l" x="4919" y="521">POL</text><text class="t w" y="535"><tspan x="4963.5">Enviar</tspan><tspan x="4963.5" dy="16">Notificação de</tspan><tspan x="4963.5" dy="16">Pedido</tspan><tspan x="4963.5" dy="16">finalizado</tspan></text></g>
<g id="ev-notif-finalizado"><rect class="ev b" x="5034" y="589" width="117" height="111"/><text class="l" x="5038" y="602">EV</text><text class="t" y="624.5"><tspan x="5092.5">Notificação ao</tspan><tspan x="5092.5" dy="16">Cliente sobre</tspan><tspan x="5092.5" dy="16">Pedido finalizado</tspan><tspan x="5092.5" dy="16">enviada</tspan></text></g>
<g id="pa-email-3"><polygon class="pa b" points="5092,824 5205,892 5092,960 4979,892"/><text class="pl" x="5092" y="851">PA</text><text class="t" y="872"><tspan x="5092">Notificação via</tspan><tspan x="5092" dy="16">email se o</tspan><tspan x="5092" dy="16">Consumidor for</tspan><tspan x="5092" dy="16">identificado</tspan></text></g>
<g id="cmd-finaliza-pedido-2"><rect class="cmd b" x="4755" y="756" width="74" height="86"/><text class="l" x="4759" y="769">CMD</text><text class="t w" y="795"><tspan x="4792">Finaliza o</tspan><tspan x="4792" dy="16">Pedido</tspan></text></g>
<g id="pol-finalizar-24h"><rect class="pol b" x="4673" y="816" width="97" height="93"/><text class="l" x="4677" y="829">POL</text><text class="t w" y="854.5"><tspan x="4721.5">Finalizar pedido</tspan><tspan x="4721.5" dy="16">após 24h por</tspan><tspan x="4721.5" dy="16">falta de retirada</tspan></text></g>
</svg>
